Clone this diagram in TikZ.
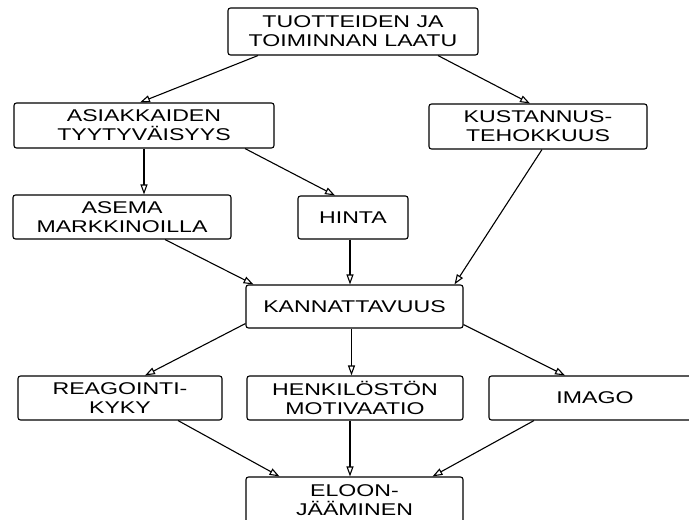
\documentclass[tikz,border=0pt]{standalone}
\usepackage{fontspec}
\setmainfont[FakeStretch=1.36]{Liberation Sans}
\usetikzlibrary{arrows.meta}
\tikzset{
  box/.style={draw, line width=1.1pt, rounded corners=2.5pt, inner sep=0pt, align=center,
    font=\fontsize{17}{19}\selectfont},
  conn/.style={line width=1.1pt, -{Triangle[open,length=10pt,width=7pt]}}
}
\begin{document}
\begin{tikzpicture}[x=1pt,y=-1pt]
\useasboundingbox[fill=white] (0,0) rectangle (689,520);
\node[box, minimum width=250pt, minimum height=47pt] (top) at (353,31.5) {TUOTTEIDEN JA\\TOIMINNAN LAATU};
\node[box, minimum width=260pt, minimum height=45pt] (asiak) at (144,125.5) {ASIAKKAIDEN\\TYYTYVÄISYYS};
\node[box, minimum width=218pt, minimum height=45pt] (kust) at (538,126.5) {KUSTANNUS-\\TEHOKKUUS};
\node[box, minimum width=218pt, minimum height=44pt] (asema) at (122,217) {ASEMA\\MARKKINOILLA};
\node[box, minimum width=110pt, minimum height=43pt] (hinta) at (353,217.5) {HINTA};
\node[box, minimum width=217pt, minimum height=43pt] (kann) at (354.5,306.5) {KANNATTAVUUS};
\node[box, minimum width=204pt, minimum height=44pt] (reag) at (120,398) {REAGOINTI-\\KYKY};
\node[box, minimum width=216pt, minimum height=44pt] (henk) at (355,398) {HENKILÖSTÖN\\MOTIVAATIO};
\node[box, minimum width=212pt, minimum height=44pt] (imago) at (595,398) {IMAGO};
\node[box, minimum width=217pt, minimum height=47pt] (eloon) at (354.5,500.5) {ELOON-\\JÄÄMINEN};

\draw[conn] ([xshift=-95pt]top.south) -- ([xshift=-4pt]asiak.north);
\draw[conn] ([xshift=85pt]top.south) -- ([xshift=-8pt]kust.north);
\draw[conn] (asiak.south) -- (asiak.south |- asema.north);
\draw[conn] ([xshift=101pt]asiak.south) -- ([xshift=-18pt]hinta.north);
\draw[conn] ([xshift=43pt]asema.south) -- ([xshift=-101pt]kann.north);
\draw[conn] ([xshift=-3pt]hinta.south) -- ([xshift=-3pt]hinta.south |- kann.north);
\draw[conn] ([xshift=4pt]kust.south) -- ([xshift=100pt]kann.north);
\draw[conn] ([yshift=5pt]kann.south west) -- ([xshift=25pt]reag.north);
\draw[conn] ([xshift=-3pt]kann.south) -- ([xshift=-3pt]kann.south |- henk.north);
\draw[conn] ([yshift=4pt]kann.south east) -- ([xshift=-30pt]imago.north);
\draw[conn] ([xshift=58pt]reag.south) -- ([xshift=-75pt]eloon.north);
\draw[conn] ([xshift=-5pt]henk.south) -- ([xshift=-5pt]henk.south |- eloon.north);
\draw[conn] ([xshift=-61pt]imago.south) -- ([xshift=78pt]eloon.north);
\end{tikzpicture}
\end{document}
